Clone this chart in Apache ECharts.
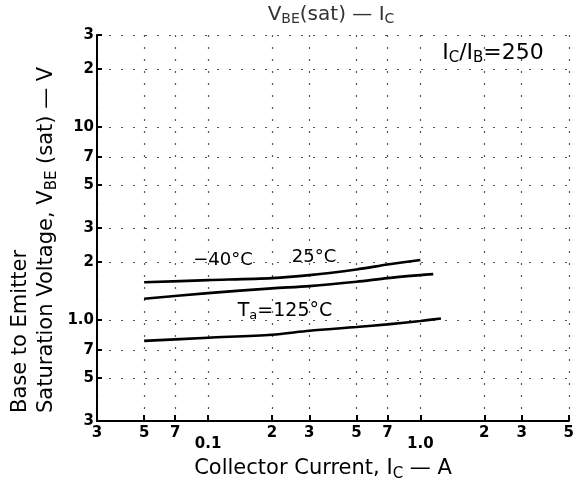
<!DOCTYPE html>
<html>
<head>
<meta charset="utf-8">
<script src="https://cdn.jsdelivr.net/npm/echarts@6/dist/echarts.min.js"></script>
<style>
html,body{margin:0;padding:0;background:#fff;}
#chart{width:577px;height:488px;}
</style>
</head>
<body>
<div id="chart"></div>
<script>
// ---- data ----
var xTicks = [0.03, 0.05, 0.07, 0.1, 0.2, 0.3, 0.5, 0.7, 1.0, 2, 3, 5];
var xTickLabels = ['3', '5', '7', '0.1', '2', '3', '5', '7', '1.0', '2', '3', '5'];
var yTicks = [0.3, 0.5, 0.7, 1.0, 2, 3, 5, 7, 10, 20, 30];
var yTickLabels = ['3', '5', '7', '1.0', '2', '3', '5', '7', '10', '2', '3'];

var icM40 = [0.05, 0.1, 0.2, 0.3, 0.5, 0.7, 1.0];
var vbeM40 = [1.57, 1.61, 1.65, 1.71, 1.83, 1.94, 2.05];
var ic25 = [0.05, 0.1, 0.2, 0.3, 0.5, 0.7, 1.0, 1.15];
var vbe25 = [1.29, 1.38, 1.46, 1.50, 1.58, 1.65, 1.71, 1.73];
var ic125 = [0.05, 0.1, 0.2, 0.3, 0.5, 0.7, 1.0, 1.25];
var vbe125 = [0.78, 0.81, 0.84, 0.88, 0.92, 0.95, 0.99, 1.02];

function pairs(xs, ys) { return xs.map(function (x, i) { return [x, ys[i]]; }); }
function lookup(ticks, labels, v) {
  for (var i = 0; i < ticks.length; i++) {
    if (Math.abs(ticks[i] - v) / ticks[i] < 1e-6) return labels[i];
  }
  return '';
}
var decades = [0.1, 1.0];

var chart = echarts.init(document.getElementById('chart'), null, { renderer: 'canvas' });
var gridLine = { show: true, lineStyle: { color: '#555', width: 1.2, type: [2, 10] } };
var lineW = 2.6;

var option = {
  animation: false,
  backgroundColor: '#fff',
  grid: { left: 97, right: 2, top: 35, bottom: 67, containLabel: false },
  xAxis: {
    type: 'log', logBase: 10, min: 0.03, max: 5,
    axisLine: { show: true, lineStyle: { color: '#000', width: 2 } },
    axisTick: { show: true, inside: true, length: 6, lineStyle: { color: '#000', width: 2 }, customValues: xTicks },
    axisLabel: {
      customValues: xTicks, margin: 5, color: '#000',
      fontFamily: 'DejaVu Sans', fontSize: 15, fontWeight: 'bold',
      formatter: function (v) {
        var t = lookup(xTicks, xTickLabels, v);
        for (var i = 0; i < decades.length; i++) if (Math.abs(decades[i] - v) < 1e-9) return '{d|' + t + '}';
        return t;
      },
      rich: { d: { fontFamily: 'DejaVu Sans', fontSize: 15, fontWeight: 'bold', color: '#000', padding: [11, 0, 0, 0] } }
    },
    splitLine: Object.assign({ customValues: xTicks }, gridLine),
    minorTick: { show: false }, minorSplitLine: { show: false }
  },
  yAxis: {
    type: 'log', logBase: 10, min: 0.3, max: 30,
    axisLine: { show: true, lineStyle: { color: '#000', width: 2 } },
    axisTick: { show: true, inside: true, length: 5, lineStyle: { color: '#000', width: 2 }, customValues: yTicks },
    axisLabel: {
      customValues: yTicks, margin: 3, color: '#000',
      fontFamily: 'DejaVu Sans', fontSize: 15, fontWeight: 'bold',
      formatter: function (v) { return lookup(yTicks, yTickLabels, v); }
    },
    splitLine: Object.assign({ customValues: yTicks }, gridLine),
    minorTick: { show: false }, minorSplitLine: { show: false }
  },
  series: [
    { name: '-40°C', type: 'line', data: pairs(icM40, vbeM40), showSymbol: false, smooth: 0.3,
      lineStyle: { color: '#000', width: lineW } },
    { name: '25°C', type: 'line', data: pairs(ic25, vbe25), showSymbol: false, smooth: 0.3,
      lineStyle: { color: '#000', width: lineW } },
    { name: 'Ta=125°C', type: 'line', data: pairs(ic125, vbe125), showSymbol: false, smooth: 0.3,
      lineStyle: { color: '#000', width: lineW } }
  ],
  graphic: [
    { type: 'text', x: 331, y: 15, style: { text: 'V{s|BE}(sat) — I{s|C}', fill: '#333', font: '20px "DejaVu Sans"', align: 'center', verticalAlign: 'middle',
      rich: { s: { fontSize: 14, fontFamily: 'DejaVu Sans', fill: '#333', padding: [9, 0, 0, 0] } } } },
    { type: 'text', x: 493, y: 53, style: { text: 'I{s|C}/I{s|B}=250', fill: '#000', font: '22px "DejaVu Sans"', align: 'center', verticalAlign: 'middle', backgroundColor: '#fff',
      rich: { s: { fontSize: 15, fontFamily: 'DejaVu Sans', fill: '#000', padding: [10, 0, 0, 0] } } } },
    { type: 'text', x: 223, y: 260, style: { text: '−40°C', fill: '#000', font: '18px "DejaVu Sans"', align: 'center', verticalAlign: 'middle' } },
    { type: 'text', x: 314, y: 257, style: { text: '25°C', fill: '#000', font: '18px "DejaVu Sans"', align: 'center', verticalAlign: 'middle' } },
    { type: 'text', x: 285, y: 311, style: { text: 'T{s|a}=125°C', fill: '#000', font: '19px "DejaVu Sans"', align: 'center', verticalAlign: 'middle',
      rich: { s: { fontSize: 13, fontFamily: 'DejaVu Sans', fill: '#000', padding: [9, 0, 0, 0] } } } },
    { type: 'text', x: 323, y: 469, style: { text: 'Collector Current, I{s|C} — A', fill: '#000', font: '21px "DejaVu Sans"', align: 'center', verticalAlign: 'middle',
      rich: { s: { fontSize: 15, fontFamily: 'DejaVu Sans', fill: '#000', padding: [10, 0, 0, 0] } } } },
    { type: 'text', x: 21, y: 413, rotation: Math.PI / 2, style: { text: 'Base to Emitter', fill: '#000', font: '21px "DejaVu Sans"', align: 'left', verticalAlign: 'middle' } },
    { type: 'text', x: 47, y: 413, rotation: Math.PI / 2, style: { text: 'Saturation Voltage, V{s|BE} (sat) — V', fill: '#000', font: '21px "DejaVu Sans"', align: 'left', verticalAlign: 'middle',
      rich: { s: { fontSize: 15, fontFamily: 'DejaVu Sans', fill: '#000', padding: [10, 0, 0, 0] } } } }
  ]
};
chart.setOption(option);
</script>
</body>
</html>
